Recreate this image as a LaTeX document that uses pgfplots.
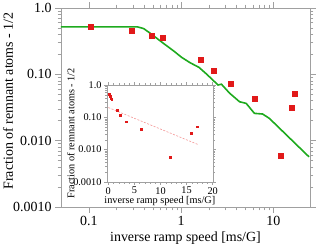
\documentclass[border=0pt]{standalone}
\usepackage{fontspec}
\setmainfont{Liberation Serif}
\usepackage{pgfplots}
\pgfplotsset{compat=1.18}
\definecolor{dred}{RGB}{225,25,25}
\definecolor{dgreen}{RGB}{30,170,30}
\definecolor{axgray}{RGB}{160,160,160}
\definecolor{pinkd}{RGB}{245,150,150}
\begin{document}
\begin{tikzpicture}
\begin{axis}[
 at={(0,0)}, anchor=south west, scale only axis,
 width=249bp, height=199bp,
 xmode=log, ymode=log, xmin=0.05, xmax=25, ymin=0.001, ymax=1,
 axis line style={axgray},
 every tick/.style={axgray, line width=0.5bp},
 tick align=outside,
 major tick length=6bp, minor tick length=3.5bp,
 xtick={0.1,1,10}, xticklabels={0.1,1,10},
 ytick={0.001,0.01,0.1,1}, yticklabels={0.0010,0.010,0.10,1.0},
 font=\fontsize{14}{16}\selectfont,
 tick label style={font=\fontsize{14}{16}\selectfont, black},
 label style={font=\fontsize{14}{16}\selectfont},
 xlabel={inverse ramp speed [ms/G]},
 ylabel={Fraction of remnant atoms - 1/2},
 xlabel style={at={(axis description cs:0.5,-0.154)}, anchor=center},
 ylabel style={at={(axis description cs:-0.213,0.533)}, anchor=center},
 /pgf/number format/assume math mode=true,
]
\addplot[dgreen, line width=1.6bp, mark=none] coordinates {
(0.05,0.52) (0.336,0.52) (0.393,0.49) (0.465,0.415) (0.645,0.293) (0.826,0.227)
(1.017,0.18) (1.25,0.15) (1.57,0.127) (1.89,0.101) (2.52,0.069) (2.74,0.071)
(3.36,0.052) (4.31,0.0386) (5.08,0.0365) (6.25,0.0258) (7.67,0.0252) (9.06,0.0217)
(24.4,0.0057)};
\addplot[only marks, mark=square*, mark size=2.5bp, dred, mark options={draw=dred, fill=dred}] coordinates {
(0.104,0.516) (0.292,0.46) (0.475,0.387) (0.64,0.353) (1.65,0.166) (2.25,0.113)
(3.45,0.073) (6.3,0.0435) (11.9,0.00586) (15.9,0.0318) (17.1,0.051)};
\end{axis}
\begin{axis}[
 at={(46bp,25.3bp)}, anchor=south west, scale only axis,
 width=105.7bp, height=96.7bp,
 ymode=log, xmin=-0.25, xmax=20, ymin=0.001, ymax=1,
 axis background/.style={fill=white},
 axis line style={axgray},
 every tick/.style={axgray, line width=0.4bp},
 tick align=outside,
 major tick length=3bp, minor tick length=2bp,
 xtick={0,5,10,15,20}, xticklabels={0,5,10,15,20},
 minor x tick num=4,
 ytick={0.001,0.01,0.1,1}, yticklabels={0.0010,0.010,0.10,1.0},
 tick label style={font=\fontsize{10.3}{11}\selectfont, black},
 label style={font=\fontsize{10.3}{11}\selectfont},
 xlabel={inverse ramp speed [ms/G]},
 ylabel={Fraction of remnant atoms - 1/2},
 xlabel style={at={(axis description cs:0.5,-0.196)}, anchor=center},
 ylabel style={at={(axis description cs:-0.343,0.5)}, anchor=center},
 xticklabel style={yshift=1bp},
 yticklabel style={xshift=1bp},
]
\addplot[pinkd, dash pattern=on 2bp off 1.5bp, line width=0.6bp] coordinates {(0,0.2) (17.3,0.014)};
\addplot[only marks, mark=square*, mark size=0.9bp, dred, mark options={draw=dred, fill=dred}] coordinates {
(0.104,0.516) (0.292,0.46) (0.475,0.387) (0.64,0.353) (1.65,0.166) (2.25,0.113)
(3.45,0.073) (6.3,0.0435) (11.9,0.00586) (15.9,0.0318) (17.1,0.051)};
\end{axis}
\pgfresetboundingbox
\path[use as bounding box] (-61bp,-41bp) rectangle (257bp,207bp);
\end{tikzpicture}
\end{document}
